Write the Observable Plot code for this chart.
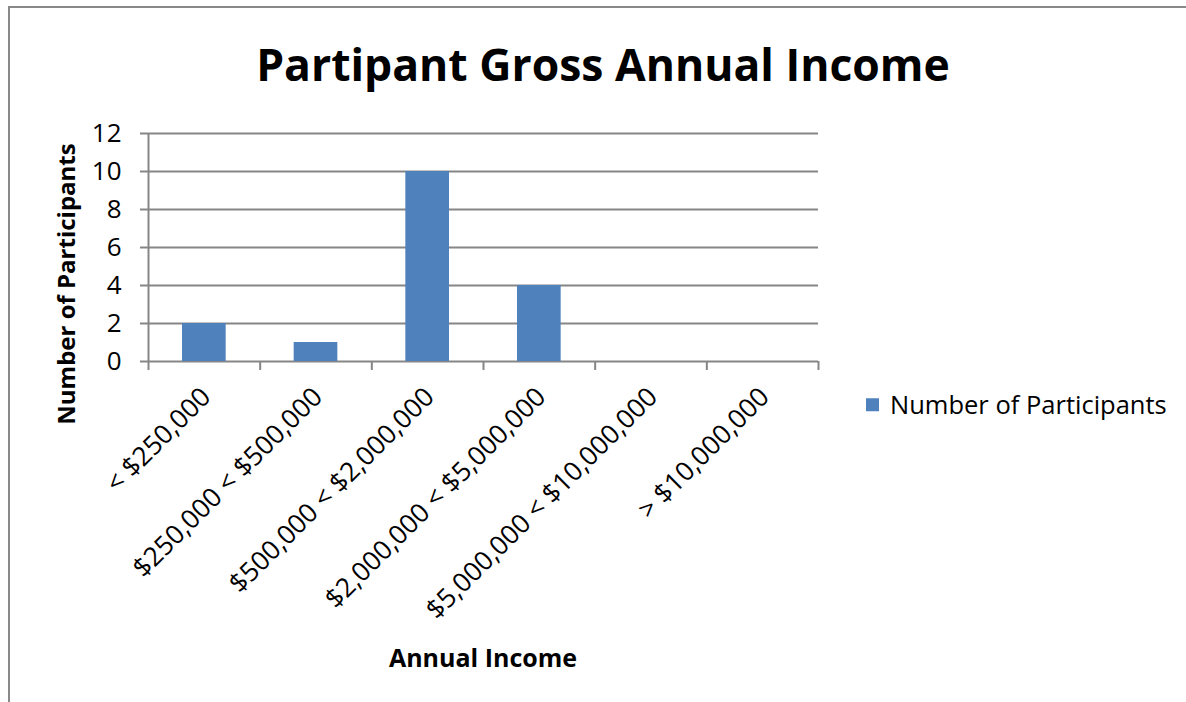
<!DOCTYPE html>
<html>
<head>
<meta charset="utf-8">
<script src="https://cdn.jsdelivr.net/npm/d3@7"></script>
<script src="https://cdn.jsdelivr.net/npm/@observablehq/plot@0.6"></script>
<style>
  html, body { margin: 0; padding: 0; background: #fff; }
  #chart { position: relative; width: 1186px; height: 702px; overflow: hidden; font-family: "Open Sans", sans-serif; color: #000; }
  #frame { position: absolute; left: 8px; top: 6px; width: 1180px; height: 700px; border-top: 2px solid #898989; border-left: 2px solid #898989; }
  #plot { position: absolute; left: 0; top: 0; }
  .abs { position: absolute; white-space: nowrap; line-height: 1; }
  #title { left: 20px; width: 1166px; top: 42px; text-align: center; font-weight: 700; font-size: 44.5px; }
  #ylabel { left: 66px; top: 284px; transform: translate(-50%, -50%) rotate(-90deg); font-weight: 700; font-size: 24px; }
  #xlabel { left: 483px; top: 657px; transform: translate(-50%, -50%); font-weight: 700; font-size: 25px; }
  #legend { left: 866px; top: 405px; transform: translateY(-50%); font-size: 25.5px; display: flex; align-items: center; }
  #legend .sw { width: 13px; height: 13px; background: #4F81BD; margin-right: 11px; }
</style>
</head>
<body>
<div id="chart">
  <div id="frame"></div>
  <div id="plot"></div>
  <div id="title" class="abs">Partipant Gross Annual Income</div>
  <div id="ylabel" class="abs">Number of Participants</div>
  <div id="xlabel" class="abs">Annual Income</div>
  <div id="legend" class="abs"><div class="sw"></div><span>Number of Participants</span></div>
</div>
<script>
const categories = ["< $250,000", "$250,000 < $500,000", "$500,000 < $2,000,000", "$2,000,000 < $5,000,000", "$5,000,000 < $10,000,000", "> $10,000,000"];
const participants = [2, 1, 10, 4, 0, 0];
const yTicks = [0, 2, 4, 6, 8, 10, 12];

const data = categories.map((c, i) => ({category: c, value: participants[i], index: i}));
const boundaries = d3.range(0, categories.length + 1);
const gridColor = "#868686";

const chart = Plot.plot({
  width: 1186,
  height: 702,
  marginLeft: 148,
  marginRight: 368,
  marginTop: 133,
  marginBottom: 341,
  style: {fontFamily: "Open Sans, sans-serif", fontSize: "22px", color: "#000", background: "transparent", overflow: "visible"},
  x: {domain: [0, categories.length], axis: null},
  y: {domain: [0, 12], axis: null},
  marks: [
    Plot.ruleY(yTicks, {stroke: gridColor, strokeWidth: 2}),
    Plot.rectY(data, {x1: "index", x2: d => d.index + 1, y: "value", insetLeft: 34, insetRight: 34, fill: "#4F81BD"}),
    Plot.ruleX([0], {stroke: gridColor, strokeWidth: 2}),
    Plot.axisY({ticks: yTicks, tickSize: 8, tickPadding: 19, stroke: gridColor, strokeWidth: 2, fontSize: 26, label: null}),
    Plot.axisX({ticks: boundaries, tickSize: 9, tickFormat: () => "", stroke: gridColor, strokeWidth: 2, label: null}),
    Plot.text(data, {x: d => d.index + 0.5, y: 0, text: "category", rotate: -45, textAnchor: "end", lineAnchor: "middle", dx: 2, dy: 31, fontSize: 26.5, fill: "#000"})
  ]
});
document.getElementById("plot").appendChild(chart);
</script>
</body>
</html>
